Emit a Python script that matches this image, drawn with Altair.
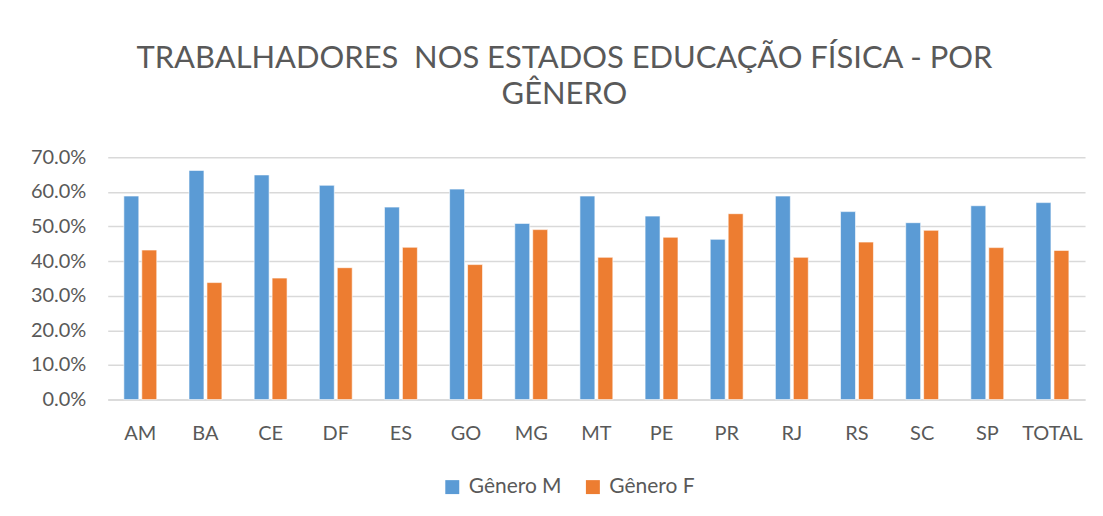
import altair as alt
import pandas as pd

states = ["AM", "BA", "CE", "DF", "ES", "GO", "MG", "MT", "PE", "PR", "RJ", "RS", "SC", "SP", "TOTAL"]
genero_m = [0.588, 0.662, 0.649, 0.619, 0.556, 0.608, 0.509, 0.588, 0.530, 0.463, 0.588, 0.543, 0.511, 0.560, 0.569]
genero_f = [0.432, 0.338, 0.351, 0.381, 0.440, 0.390, 0.491, 0.411, 0.469, 0.537, 0.411, 0.455, 0.489, 0.439, 0.431]
series = ["Gênero M", "Gênero F"]
colors = ["#5B9BD5", "#ED7D31"]

rows = []
for i, s in enumerate(states):
    rows.append({"estado": s, "serie": series[0], "valor": genero_m[i]})
    rows.append({"estado": s, "serie": series[1], "valor": genero_f[i]})
df = pd.DataFrame(rows)

FONT = "Lato"
TXT = "#595959"
GRID = "#D9D9D9"

chart = alt.Chart(df).mark_bar(stroke="white", strokeWidth=0.6).encode(
    x=alt.X("estado:N", sort=states,
            scale=alt.Scale(paddingInner=0.495, paddingOuter=0.2475),
            axis=alt.Axis(title=None, labelAngle=0, ticks=False, domain=True,
                          domainColor=GRID, domainWidth=1.5, labelPadding=24,
                          labelFontSize=20, labelColor=TXT, labelFont=FONT)),
    xOffset=alt.XOffset("serie:N", sort=series,
                        scale=alt.Scale(paddingInner=0.1667, paddingOuter=0)),
    y=alt.Y("valor:Q",
            scale=alt.Scale(domain=[0, 0.7], nice=False),
            axis=alt.Axis(title=None, format=".1%", values=[0, 0.1, 0.2, 0.3, 0.4, 0.5, 0.6, 0.7],
                          ticks=False, domain=False, grid=True, gridColor=GRID, gridWidth=1.5,
                          labelPadding=22, labelFontSize=20, labelColor=TXT, labelFont=FONT)),
    color=alt.Color("serie:N", sort=series,
                    scale=alt.Scale(domain=series, range=colors),
                    legend=alt.Legend(title=None, orient="none", direction="horizontal",
                                      legendX=335, legendY=320,
                                      symbolType="square", symbolSize=196, symbolStrokeWidth=0,
                                      labelFontSize=21, labelColor=TXT, labelFont=FONT,
                                      labelOffset=6, columnPadding=20)),
).properties(
    width=980,
    height=243,
    background="white",
    title=alt.TitleParams(
        text=["TRABALHADORES\u00a0 NOS ESTADOS EDUCAÇÃO FÍSICA - POR", "GÊNERO"],
        font=FONT, fontSize=31, fontWeight=400, color=TXT,
        anchor="middle", dx=-32, offset=36, lineHeight=37,
    ),
    autosize=alt.AutoSizeParams(type="none"),
    padding={"left": 100, "top": 149, "right": 10, "bottom": 100},
).configure_view(strokeWidth=0, stroke=None)

chart.save("out.html", embed_options={"renderer": "svg", "actions": False})
